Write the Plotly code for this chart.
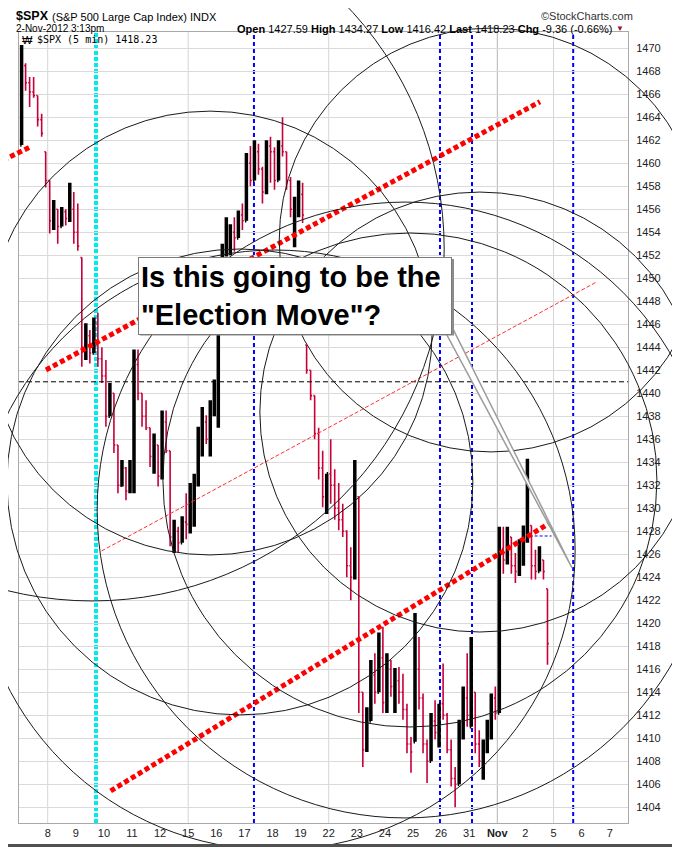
import plotly.graph_objects as go

# the page keeps the browser's 8px body margin, so the figure is drawn 8px in
PAGE_W, PAGE_H, PAD = 680, 847, 8
W, H = PAGE_W - PAD, PAGE_H - PAD

# x axis: trading sessions counted from 8 Oct 2012 (29/30 Oct closed, 5-7 Nov still to come)
tick_days = list(range(21))
tick_labels = ["8", "9", "10", "11", "12", "15", "16", "17", "18", "19",
               "22", "23", "24", "25", "26", "31", "<b>Nov</b>", "2", "5", "6", "7"]
week_start_days = [0, 5, 10, 16, 18]
price_ticks = list(range(1404, 1471, 2))

# hourly OHLC bars, 7 per session (2 Nov stops at 3:13pm)
session_days = list(range(-1, 18))
bars_per_session = [7] * 18 + [6]

bar_open = [
    1461.6, 1468.5, 1467.0, 1466.2, 1465.9, 1463.8, 1461.0,  # Oct 5
    1458.5, 1455.0, 1456.0, 1454.5, 1455.8, 1455.2, 1456.0,  # Oct 8
    1454.0, 1451.8, 1444.0, 1445.0, 1443.5, 1446.0, 1443.0,  # Oct 9
    1441.5, 1438.0, 1440.0, 1435.5, 1432.0, 1433.5, 1431.5,  # Oct 10
    1432.5, 1442.5, 1440.0, 1438.0, 1437.0, 1434.5, 1435.5,  # Oct 11
    1432.8, 1437.5, 1435.0, 1427.5, 1428.0, 1427.0, 1428.8,  # Oct 12
    1428.6, 1430.5, 1432.5, 1436.0, 1437.5, 1436.0, 1439.0,  # Oct 15
    1440.3, 1446.5, 1452.5, 1453.0, 1454.0, 1453.5, 1455.5,  # Oct 16
    1455.0, 1460.0, 1458.5, 1461.0, 1459.5, 1457.5, 1461.5,  # Oct 17
    1461.0, 1458.5, 1461.5, 1461.0, 1458.5, 1456.0, 1456.5,  # Oct 18
    1457.3, 1444.2, 1442.0, 1439.8, 1436.5, 1433.5, 1431.0,  # Oct 19
    1433.0, 1432.0, 1430.0, 1429.0, 1428.0, 1425.0, 1424.0,  # Oct 22
    1431.0, 1414.0, 1409.0, 1411.5, 1415.5, 1414.0, 1417.0,  # Oct 23
    1413.2, 1416.0, 1414.5, 1415.0, 1414.0, 1412.5, 1409.5,  # Oct 24
    1409.7, 1416.0, 1413.5, 1409.5, 1408.0, 1411.5, 1410.5,  # Oct 25
    1413.0, 1412.0, 1409.0, 1406.5, 1406.0, 1410.5, 1413.5,  # Oct 26
    1411.0, 1414.0, 1409.5, 1408.0, 1409.0, 1411.0, 1413.5,  # Oct 31
    1412.2, 1426.5, 1425.5, 1427.5, 1425.0, 1424.5, 1426.8,  # Nov 1
    1427.6, 1428.5, 1425.0, 1424.5, 1425.5, 1423.0,          # Nov 2
]
bar_high = [
    1470.3, 1468.7, 1467.5, 1467.5, 1465.9, 1464.3, 1461.0,
    1458.5, 1456.8, 1456.0, 1456.2, 1456.0, 1458.3, 1457.5,
    1456.5, 1451.8, 1446.1, 1445.5, 1446.6, 1447.0, 1444.0,
    1442.9, 1440.9, 1440.0, 1435.5, 1434.2, 1433.6, 1434.2,
    1443.8, 1443.8, 1440.0, 1439.4, 1437.0, 1436.5, 1435.5,
    1438.5, 1438.5, 1435.0, 1429.0, 1428.4, 1429.3, 1431.3,
    1432.2, 1433.0, 1437.1, 1438.8, 1438.1, 1439.4, 1441.2,
    1447.0, 1453.0, 1455.3, 1454.7, 1455.3, 1455.9, 1456.5,
    1460.9, 1461.5, 1462.0, 1461.7, 1459.7, 1462.0, 1462.3,
    1461.4, 1462.0, 1464.0, 1461.0, 1458.8, 1457.1, 1458.5,
    1458.3, 1444.2, 1442.0, 1439.8, 1437.0, 1435.0, 1433.0,
    1436.0, 1433.4, 1432.2, 1430.4, 1428.1, 1426.6, 1434.2,
    1431.0, 1414.0, 1412.7, 1416.8, 1417.4, 1419.2, 1419.7,
    1417.4, 1416.8, 1416.1, 1416.2, 1415.6, 1413.0, 1410.1,
    1420.9, 1418.8, 1413.9, 1409.9, 1412.2, 1413.3, 1413.0,
    1416.5, 1412.2, 1409.9, 1407.5, 1411.6, 1414.5, 1417.4,
    1418.8, 1414.0, 1410.7, 1409.9, 1411.6, 1413.9, 1414.5,
    1428.4, 1428.4, 1428.4, 1427.5, 1426.1, 1427.3, 1428.5,
    1434.3, 1428.5, 1426.4, 1426.7, 1425.5, 1423.0,
]
bar_low = [
    1461.6, 1466.3, 1464.9, 1465.7, 1463.2, 1462.3, 1457.9,
    1453.9, 1454.2, 1453.0, 1454.5, 1454.6, 1454.9, 1453.0,
    1452.4, 1442.3, 1442.9, 1442.6, 1443.5, 1442.3, 1440.9,
    1437.1, 1438.0, 1434.8, 1431.3, 1431.9, 1430.7, 1431.3,
    1431.3, 1439.4, 1437.1, 1436.8, 1433.6, 1433.0, 1431.9,
    1432.5, 1434.8, 1426.7, 1426.1, 1426.1, 1427.0, 1427.3,
    1427.8, 1428.4, 1431.9, 1434.5, 1435.6, 1434.5, 1438.0,
    1437.0, 1446.5, 1451.9, 1452.0, 1452.3, 1453.5, 1454.2,
    1455.0, 1458.0, 1458.5, 1459.0, 1456.5, 1457.3, 1458.3,
    1457.7, 1458.5, 1460.6, 1457.7, 1455.3, 1452.7, 1455.3,
    1454.8, 1441.7, 1439.4, 1436.0, 1432.5, 1430.1, 1429.5,
    1430.4, 1429.0, 1428.1, 1427.5, 1424.0, 1422.0, 1423.8,
    1412.2, 1407.5, 1408.8, 1411.5, 1413.0, 1414.0, 1412.2,
    1412.2, 1413.6, 1412.2, 1413.0, 1411.6, 1408.7, 1407.0,
    1409.7, 1412.5, 1408.7, 1406.1, 1408.0, 1409.9, 1409.2,
    1411.6, 1408.7, 1405.8, 1404.0, 1406.0, 1409.9, 1411.0,
    1411.0, 1408.7, 1407.5, 1406.4, 1408.7, 1409.9, 1411.6,
    1412.2, 1424.3, 1425.1, 1424.3, 1423.5, 1424.1, 1425.0,
    1427.0, 1423.8, 1423.8, 1424.5, 1423.8, 1416.4,
]
bar_close = [
    1468.5, 1467.0, 1466.2, 1465.9, 1463.8, 1462.6, 1458.5,
    1455.0, 1456.0, 1454.5, 1455.8, 1455.2, 1456.0, 1454.0,
    1452.8, 1444.0, 1445.0, 1443.5, 1446.0, 1443.0, 1441.5,
    1438.0, 1440.0, 1435.5, 1432.0, 1433.5, 1431.5, 1432.5,
    1442.5, 1440.0, 1438.0, 1437.0, 1434.5, 1435.5, 1432.8,
    1437.5, 1435.0, 1427.5, 1428.0, 1427.0, 1428.8, 1428.6,
    1430.5, 1432.5, 1436.0, 1437.5, 1436.0, 1439.0, 1440.1,
    1446.5, 1452.5, 1453.0, 1454.0, 1453.5, 1455.5, 1455.0,
    1460.0, 1458.5, 1461.0, 1459.5, 1457.5, 1461.5, 1461.0,
    1458.5, 1461.5, 1461.0, 1458.5, 1456.0, 1456.5, 1457.3,
    1455.5, 1442.0, 1439.8, 1436.5, 1433.5, 1431.0, 1433.0,
    1432.0, 1430.0, 1429.0, 1428.0, 1425.0, 1424.0, 1433.8,
    1414.0, 1409.0, 1411.5, 1415.5, 1414.0, 1417.0, 1413.1,
    1416.0, 1414.5, 1415.0, 1414.0, 1412.5, 1409.5, 1408.8,
    1416.0, 1413.5, 1409.5, 1408.0, 1411.5, 1410.5, 1413.0,
    1412.0, 1409.0, 1406.5, 1406.0, 1410.5, 1413.5, 1412.0,
    1414.0, 1409.5, 1408.0, 1409.0, 1411.0, 1413.5, 1412.2,
    1426.5, 1425.5, 1427.5, 1425.0, 1424.5, 1426.8, 1427.6,
    1428.5, 1425.0, 1424.5, 1425.5, 1424.5, 1418.23,
]

open_price = 1427.59
pivot_price = 1441.0

# hand drawn markup (day, price)
cyan_cycle_days = [1.72]
blue_cycle_days = [7.34, 13.96, 15.10, 18.70]
thick_trendlines = [
    [-1.59, 1460.27, -0.61, 1461.44],
    [-0.06, 1442.03, 17.52, 1465.36],
    [2.24, 1405.42, 17.85, 1428.70],
]
thin_trendline = [1.92, 1426.29, 19.51, 1449.65]
open_line_days = [17.15, 17.93]

circle_day = [5.78, 6.84, 15.78, 15.38, 12.72, 12.89, 1.58, 8.09]
circle_price = [1445.24, 1432.29, 1453.33, 1438.37, 1429.85, 1432.46, 1452.55, 1426.37]
circle_r_days = [7.90, 8.29, 7.54, 7.83, 10.96, 8.79, 12.53, 10.68]
circle_r_pts = [19.30, 20.26, 18.43, 19.13, 26.78, 21.48, 30.61, 26.09]

callout_days = [14.17, 18.66, 14.39]
callout_prices = [1445.24, 1424.81, 1445.76]

# bar time positions inside each session
bar_x = []
for d, n in zip(session_days, bars_per_session):
    for j in range(n):
        bar_x.append(d + (j + 0.5) / 7)


def px(x):
    return (x - PAD) / W


def py(y):
    return 1 - (y - PAD) / H


x_range = [-1.021, 20.651]
y_range = [1402.63, 1471.42]
x_dom = [px(19), px(628)]
y_dom = [py(823), py(32)]


def full_range(r, dom):
    per = (r[1] - r[0]) / (dom[1] - dom[0])
    return [r[0] - dom[0] * per, r[0] + (1 - dom[0]) * per]


x2_range = full_range(x_range, x_dom)
y2_range = full_range(y_range, y_dom)

fig = go.Figure()
fig.add_trace(go.Ohlc(
    x=bar_x, open=bar_open, high=bar_high, low=bar_low, close=bar_close,
    increasing=dict(line=dict(color="black", width=3.5)),
    decreasing=dict(line=dict(color="#c8003a", width=1.6)),
    tickwidth=0.35, hoverinfo="skip", showlegend=False,
))
# empty trace so the full-page overlay axes exist (markup drawn beyond the plot frame)
fig.add_trace(go.Scatter(x=[x2_range[0]], y=[y2_range[0]], xaxis="x2", yaxis="y2",
                         mode="markers", marker=dict(opacity=0), hoverinfo="skip",
                         showlegend=False))

shapes = []
for d in week_start_days:
    shapes.append(dict(type="line", xref="x", yref="y", x0=d, x1=d,
                       y0=y_range[0], y1=y_range[1], layer="below",
                       line=dict(color="#b4b4b4" if d == 16 else "#d6d6d6", width=1)))
for d in cyan_cycle_days:
    shapes.append(dict(type="line", xref="x", yref="y", x0=d, x1=d,
                       y0=y_range[0], y1=y_range[1], layer="below",
                       line=dict(color="#00eaf0", width=4, dash="4px,2px")))
for d in blue_cycle_days:
    shapes.append(dict(type="line", xref="x", yref="y", x0=d, x1=d,
                       y0=y_range[0], y1=y_range[1], layer="below",
                       line=dict(color="#0000ff", width=2, dash="4px,3px")))
shapes.append(dict(type="line", xref="x", yref="y", x0=x_range[0], x1=x_range[1],
                   y0=pivot_price, y1=pivot_price, layer="above",
                   line=dict(color="black", width=1, dash="5px,3px")))
shapes.append(dict(type="line", xref="x", yref="y", x0=open_line_days[0], x1=open_line_days[1],
                   y0=open_price, y1=open_price, layer="above",
                   line=dict(color="#0000ff", width=1, dash="3px,2px")))
for x0, y0, x1, y1 in thick_trendlines:
    shapes.append(dict(type="line", xref="x2", yref="y2", x0=x0, y0=y0, x1=x1, y1=y1,
                       layer="above", line=dict(color="#ff0000", width=5, dash="5px,3px")))
shapes.append(dict(type="line", xref="x", yref="y", x0=thin_trendline[0], y0=thin_trendline[1],
                   x1=thin_trendline[2], y1=thin_trendline[3], layer="above",
                   line=dict(color="#ff3030", width=1, dash="4px,2px")))
for cd, cp, rd, rp in zip(circle_day, circle_price, circle_r_days, circle_r_pts):
    shapes.append(dict(type="circle", xref="x2", yref="y2", x0=cd - rd, x1=cd + rd,
                       y0=cp - rp, y1=cp + rp, layer="above",
                       line=dict(color="#1a1a1a", width=1)))
path = "M {} {} L {} {} L {} {} Z".format(callout_days[0], callout_prices[0],
                                          callout_days[1], callout_prices[1],
                                          callout_days[2], callout_prices[2])
shapes.append(dict(type="path", xref="x", yref="y", path=path, layer="above",
                   fillcolor="white", line=dict(color="#9c9c9c", width=1.5)))
# box shadow
shapes.append(dict(type="rect", xref="paper", yref="paper", x0=px(140), x1=px(454),
                   y0=py(335.5), y1=py(259), layer="above", fillcolor="#8c8c8c",
                   line=dict(width=0)))
# bottom page rule
shapes.append(dict(type="rect", xref="paper", yref="paper", x0=0, x1=1, y0=0, y1=py(844),
                   fillcolor="#505050", line=dict(width=0)))

ann = []
ann.append(dict(x=px(15), y=py(16), text="<b>$SPX</b>", font=dict(size=12.5, color="black"),
                xanchor="left", yanchor="middle"))
ann.append(dict(x=px(51), y=py(16.5), text="(S&P 500 Large Cap Index) INDX",
                font=dict(size=11, color="black"), xanchor="left", yanchor="middle"))
ann.append(dict(x=px(634), y=py(16), text="©StockCharts.com",
                font=dict(size=11, color="#333"), xanchor="right", yanchor="middle"))
ann.append(dict(x=px(15), y=py(29), text="2-Nov-2012 3:13pm",
                font=dict(size=10, color="black"), xanchor="left", yanchor="middle"))
ann.append(dict(x=px(613), y=py(28.5),
                text="<b>Open</b> 1427.59 <b>High</b> 1434.27 <b>Low</b> 1416.42 "
                     "<b>Last</b> 1418.23 <b>Chg</b> -9.36 (-0.66%)",
                font=dict(size=11, color="black"), xanchor="right", yanchor="middle"))
ann.append(dict(x=px(615), y=py(28.5), text="▼", font=dict(size=8, color="#a0102a"),
                xanchor="left", yanchor="middle"))
ann.append(dict(x=px(21), y=py(40), text="₩", font=dict(size=11, color="black"),
                xanchor="left", yanchor="middle"))
ann.append(dict(x=px(36), y=py(40), text="$SPX (5 min) 1418.23",
                font=dict(family="DejaVu Sans Mono", size=10, color="black"),
                xanchor="left", yanchor="middle"))
ann.append(dict(x=px(137.5), y=py(256.5), xanchor="left", yanchor="top",
                text="<b>Is this going to be the<br>\"Election Move\"?</b>",
                font=dict(family="Liberation Sans, Arial", size=29, color="black"),
                align="left", valign="middle", width=308, height=72,
                bgcolor="white", bordercolor="#7a7a7a", borderwidth=1, borderpad=2))
for a in ann:
    a.update(xref="paper", yref="paper", showarrow=False)
for a in ann[:8]:
    a.update(borderpad=0)

fig.update_layout(
    width=W, height=H, margin=dict(l=0, r=0, t=0, b=0),
    paper_bgcolor="white", plot_bgcolor="rgba(0,0,0,0)", showlegend=False,
    font=dict(family="Liberation Sans, Arial, sans-serif", size=11, color="#222"),
    xaxis=dict(domain=x_dom, range=x_range, tickvals=tick_days, ticktext=tick_labels,
               ticks="", showgrid=False, zeroline=False, showline=True,
               linecolor="#a9a9a9", mirror=True, rangeslider=dict(visible=False),
               tickfont=dict(size=11, color="#222")),
    yaxis=dict(domain=y_dom, range=y_range, side="right", tickvals=price_ticks,
               ticks="", showgrid=True, gridcolor="#dadada", zeroline=False,
               showline=True, linecolor="#a9a9a9", mirror=True, ticklabelstandoff=5,
               tickfont=dict(size=11, color="#222")),
    xaxis2=dict(domain=[0, 1], range=x2_range, anchor="y2", visible=False),
    yaxis2=dict(domain=[0, 1], range=y2_range, anchor="x2", visible=False),
    shapes=shapes, annotations=ann,
)

fig.write_html("out.html")
